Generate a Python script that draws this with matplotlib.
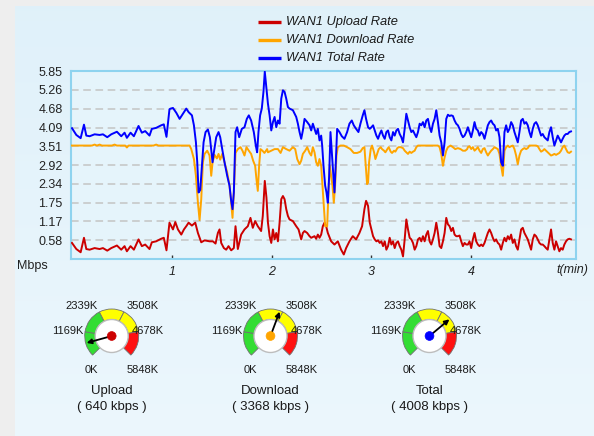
import numpy as np
import matplotlib

matplotlib.use("Agg")
import matplotlib.pyplot as plt
from matplotlib.patches import Wedge, Circle

plt.rcParams["font.family"] = ["Liberation Sans", "DejaVu Sans"]

# ---- traffic samples: time in seconds, rate in Mbps ----
upload_t = [0, 2.6, 5.2, 7.2, 8.6, 10.6, 13.6, 16.6, 18.6, 21.2, 23.6, 27.0, 29.6, 31.6, 33.0,
            35.2, 37.2, 40.0, 42.0, 44.0, 46.6, 48.0, 50.6, 53.6, 55.2, 56.8, 58.6,
            60.7, 62.1, 63.7, 65.7, 67.3, 68.7, 70.1, 72.1, 74.1, 75.7, 77.7, 79.7, 82.7, 84.7,
            86.3, 87.7, 88.7, 89.7, 91.3, 92.7, 94.1, 95.7, 97.3, 98.3, 99.7, 101.7, 103.7, 105.7,
            107.3, 108.7, 110.1, 111.7, 113.7, 114.7, 115.9, 116.9,
            117.8, 118.8, 119.8, 120.8, 121.8, 122.8, 123.8, 124.8, 125.8, 126.8, 127.8, 128.8,
            129.8, 130.8, 132.8, 134.8, 136.2, 137.8, 138.8, 139.8, 141.4, 142.8, 143.8, 145.8,
            146.8, 147.8, 148.8, 149.8, 150.8, 151.8, 152.8, 153.8, 155.8, 157.8, 159.8, 161.8,
            163.4, 164.8, 166.8, 168.8, 170.8, 172.8, 174.4, 175.8, 176.8] + list(range(178, 301))
upload_v = [0.50, 0.31, 0.21, 0.66, 0.31, 0.29, 0.34, 0.31, 0.34, 0.26, 0.34, 0.42, 0.29, 0.40, 0.24,
            0.40, 0.29, 0.61, 0.40, 0.45, 0.31, 0.52, 0.55, 0.63, 0.66, 0.27, 1.13,
            0.92, 1.15, 0.92, 0.76, 0.92, 1.02, 1.13, 1.04, 1.13, 0.81, 0.52, 0.58, 0.55, 0.55,
            0.48, 0.81, 0.92, 0.50, 0.34, 0.29, 0.40, 0.27, 0.34, 1.02, 0.31, 0.76, 0.92, 1.02,
            1.28, 0.97, 1.18, 1.02, 0.87, 1.34, 2.43, 1.91,
            1.13, 0.71, 0.50, 0.92, 0.61, 0.81, 0.55, 1.13, 1.86, 1.96, 1.86, 1.55,
            1.34, 1.23, 1.18, 1.02, 0.92, 0.61, 0.81, 0.87, 0.81, 0.71, 0.66, 0.71,
            0.63, 0.76, 0.66, 0.76, 1.02, 1.13, 1.02, 0.81, 0.55, 0.45, 0.55, 0.29,
            0.14, 0.34, 0.55, 0.71, 0.61, 0.81, 1.02, 1.55, 1.81,
            1.65, 1.13, 0.92, 0.71, 0.61, 0.55, 0.58, 0.50, 0.55, 0.40,
            0.55, 0.29, 0.40, 0.66, 0.45, 0.55, 0.34, 0.50, 0.55, 0.40,
            0.29, 0.08, 0.61, 1.23, 0.92, 0.66, 0.61, 0.50, 0.29, 0.40,
            0.61, 0.66, 0.55, 0.71, 0.55, 0.76, 0.87, 0.55, 0.45, 0.61,
            0.81, 1.13, 0.81, 0.40, 0.34, 0.55, 0.81, 1.28, 1.08, 1.02,
            0.87, 0.97, 0.76, 0.71, 0.71, 0.73, 0.55, 0.40, 0.50, 0.45,
            0.45, 0.55, 0.34, 0.61, 0.81, 0.55, 0.45, 0.40, 0.45, 0.40,
            0.50, 0.66, 0.81, 0.92, 0.81, 0.66, 0.55, 0.61, 0.50, 0.45,
            0.29, 0.50, 0.66, 0.55, 0.71, 0.61, 0.76, 0.50, 0.61, 0.40,
            0.29, 0.61, 0.92, 0.97, 0.81, 0.71, 0.61, 0.45, 0.29, 0.61,
            0.76, 0.71, 0.61, 0.50, 0.45, 0.45, 0.40, 0.34, 0.29, 0.61,
            0.92, 0.50, 0.29, 0.55, 0.40, 0.24, 0.34, 0.29, 0.45, 0.55,
            0.61, 0.63, 0.61]

download_t = [0, 12, 13.6, 15, 16.6, 18, 24, 25.6, 27, 32, 33, 34, 49, 50.6, 52, 58.6,
              70.7, 71.7, 73.3, 74.5, 75.7, 76.7, 77.7, 78.7, 79.7, 81.3, 82.7, 83.7, 84.5, 85.7,
              87.1, 88.1, 89.1, 90.3, 91.7, 93.3, 94.7, 95.7, 96.5, 97.3, 98.3, 99.7, 101.3, 102.5,
              103.7, 104.9, 106.3, 107.7, 108.9, 110.1, 110.9, 111.7, 112.5, 113.3, 114.5, 115.7, 117.3,
              117.8, 119.8, 121.8, 123.8, 125.4, 126.8, 128.8, 130.8, 132.8, 134.2, 135.4, 136.8,
              137.8, 138.8, 140.2, 141.4, 142.8, 143.8, 144.8, 145.8, 146.8, 147.8, 148.8, 149.8,
              150.6, 151.4, 152.2, 153.4, 154.2, 155.0, 155.8, 156.6, 157.4, 158.2, 159.0, 159.8,
              161.4, 163.4, 165.4, 167.4, 169.4, 171.4, 173.4, 174.8, 175.8, 176.6, 177.4,
              178.0, 178.6, 179.6, 180.4, 181.6, 182.4, 183.6, 184.4, 185.6, 186.4, 187.6, 188.4,
              189.6, 190.4, 191.6, 192.4, 193.6, 194.4, 195.6, 196.4, 197.6, 199.0, 200.0, 201.0,
              202.0, 203.0, 204.0, 205.0, 206.0, 207.0, 208.0, 220.0, 221.0, 222.0, 223.0, 224.0,
              225.0, 226.0, 227.6, 229.0, 230.4, 232.0, 233.6, 235.0, 236.4, 237.6] + list(range(238, 301))
download_v = [3.53, 3.53, 3.56, 3.53, 3.56, 3.53, 3.53, 3.56, 3.53, 3.53, 3.47, 3.53, 3.53, 3.56, 3.53, 3.53,
              3.53, 3.42, 3.11, 2.59, 1.75, 1.21, 1.86, 3.01, 3.27, 3.37, 3.22, 2.59, 3.01, 3.24,
              3.13, 3.27, 3.09, 3.27, 3.01, 2.69, 2.28, 1.75, 1.28, 2.07, 3.30, 3.42, 3.48, 3.37,
              3.22, 3.48, 3.37, 3.27, 3.06, 2.90, 2.48, 2.12, 2.90, 3.42, 3.37, 3.30, 3.42,
              3.32, 3.37, 3.42, 3.42, 3.30, 3.48, 3.42, 3.37, 3.48, 3.42, 3.11, 2.95,
              3.06, 3.27, 3.37, 3.48, 3.30, 3.22, 3.48, 3.32, 3.01, 2.90, 3.11, 2.90,
              2.28, 1.65, 1.02, 1.02, 2.07, 2.90, 2.59, 2.28, 1.75, 2.28, 3.22, 3.48,
              3.53, 3.53, 3.48, 3.42, 3.30, 3.30, 3.34, 3.45, 3.48, 2.90, 2.33,
              2.38, 3.01, 3.42, 3.53, 3.32, 3.11, 3.30, 3.42, 3.48, 3.42, 3.37, 3.32,
              3.42, 3.48, 3.34, 3.30, 3.37, 3.34, 3.45, 3.48, 3.48, 3.45, 3.37, 3.32,
              3.27, 3.34, 3.30, 3.34, 3.37, 3.48, 3.53, 3.53, 3.48, 3.27, 2.90, 3.16,
              3.37, 3.48, 3.53, 3.48, 3.42, 3.45, 3.42, 3.37, 3.37, 3.42,
              3.48, 3.51, 3.42, 3.48, 3.37, 3.42, 3.48, 3.37, 3.30, 3.42,
              3.45, 3.32, 3.22, 3.30, 3.37, 3.42, 3.48, 3.45, 3.42, 3.27,
              2.90, 2.59,
              3.37, 3.48, 3.53, 3.48, 3.51, 3.53, 3.42, 3.22, 2.95, 3.22,
              3.37, 3.42, 3.45, 3.42, 3.45, 3.53, 3.53, 3.53, 3.53, 3.53,
              3.51, 3.42, 3.34, 3.37, 3.42, 3.37, 3.32, 3.27, 3.22, 3.24,
              3.27, 3.24, 3.27, 3.30, 3.37, 3.48, 3.53, 3.42, 3.32, 3.30, 3.34]

total_t = [0, 2.6, 5.2, 7.2, 8.6, 10.6, 13.6, 16.6, 18.6, 21.2, 23.6, 27.0, 29.6, 31.6, 33.0,
           35.2, 37.2, 40.0, 42.0, 44.0, 46.6, 48.0, 50.6, 53.6, 55.2, 56.8, 58.6,
           59.3, 60.7, 62.7, 64.7, 66.7, 68.7, 70.1, 72.1, 73.3, 74.5, 75.3, 76.1, 77.1, 78.1,
           79.1, 80.3, 81.7, 82.9, 83.9, 84.5, 85.3, 86.7, 88.1, 89.1, 90.3, 91.7, 93.3, 94.7,
           95.7, 96.5, 97.3, 98.3, 99.3, 100.5, 102.1, 103.7, 105.1, 106.3, 107.7, 109.3, 110.5,
           111.3, 112.1, 113.1, 114.1, 115.1, 115.9, 116.7,
           117.8, 118.8, 119.8, 120.8, 121.8, 122.8, 123.8, 124.8, 125.8, 126.8, 127.8, 128.8,
           129.8, 130.8, 132.8, 134.8, 135.8, 136.8, 137.8, 138.8, 139.8, 141.4, 142.8, 143.8,
           144.8, 145.8, 146.8, 147.8, 148.8, 149.8, 150.4, 151.2, 152.2, 153.0, 153.8, 154.6,
           155.4, 156.2, 157.0, 157.8, 158.6, 159.4, 160.8, 162.2, 163.8, 165.4, 166.8, 168.2,
           169.4, 170.8, 172.2, 173.4, 174.8, 175.8, 176.8] + list(range(178, 301))
total_v = [4.07, 3.86, 3.76, 4.18, 3.84, 3.82, 3.88, 3.86, 3.88, 3.79, 3.88, 3.96, 3.82, 3.93, 3.77,
           3.93, 3.82, 4.14, 3.93, 3.98, 3.84, 4.05, 4.08, 4.16, 4.19, 3.80, 4.66,
           4.68, 4.70, 4.55, 4.36, 4.52, 4.68, 4.57, 4.47, 4.16, 3.63, 3.01, 2.07, 2.15, 2.90,
           3.63, 3.95, 4.03, 3.79, 3.32, 3.01, 3.32, 3.79, 3.95, 3.79, 3.42, 3.01, 2.59, 2.28,
           1.81, 1.55, 2.07, 3.95, 4.10, 3.79, 4.05, 4.10, 4.36, 4.47, 4.31, 3.95, 3.53,
           3.32, 3.95, 4.47, 4.68, 5.20, 5.83, 5.41,
           4.83, 4.47, 4.00, 4.26, 4.42, 4.10, 4.31, 4.21, 4.99, 5.25, 5.20, 4.99,
           4.73, 4.68, 4.63, 4.42, 4.21, 3.95, 3.74, 4.00, 4.36, 4.26, 4.16, 4.00,
           4.21, 4.05, 3.89, 4.05, 3.69, 3.84, 3.53, 2.90, 2.28, 2.07, 1.75, 2.59,
           3.95, 3.32, 2.69, 2.07, 3.01, 4.05, 3.95, 3.82, 3.74, 3.95, 4.21, 4.31,
           4.16, 4.05, 3.95, 4.21, 4.47, 4.63, 4.36,
           4.10, 4.05, 4.10, 4.16, 4.00, 3.84, 3.74, 3.89, 4.00, 3.84,
           3.74, 3.95, 4.00, 3.79, 3.69, 3.95, 3.84, 4.00, 4.05, 3.89,
           3.79, 3.63, 4.05, 4.52, 4.31, 4.10, 3.95, 4.00, 3.89, 3.79,
           3.95, 4.21, 4.16, 4.26, 4.10, 4.31, 4.36, 4.10, 3.95, 4.21,
           4.36, 4.63, 4.26, 3.84, 3.63, 3.22, 3.63, 4.36, 4.49, 4.45,
           4.47, 4.45, 4.31, 4.21, 4.16, 4.05, 3.89, 3.79, 3.84, 3.95,
           4.10, 3.95, 3.79, 4.00, 4.26, 4.05, 4.00, 3.84, 3.95, 3.89,
           3.74, 3.95, 4.16, 4.26, 4.31, 4.21, 4.16, 4.00, 4.05, 3.79,
           3.01, 2.90,
           3.95, 4.16, 3.95, 4.05, 4.26, 4.16, 3.95, 3.79, 3.63, 3.95,
           4.31, 4.36, 4.21, 4.26, 4.16, 3.95, 3.79, 4.05, 4.21, 4.26,
           4.16, 4.00, 3.84, 3.89, 3.79, 3.74, 3.69, 3.95, 4.10, 3.79,
           3.53, 3.69, 3.84, 3.74, 3.63, 3.74, 3.84, 3.89, 3.89, 3.95, 3.97]

series_labels = ["WAN1 Upload Rate", "WAN1 Download Rate", "WAN1 Total Rate"]
series_colors = ["#cc0000", "#ffa500", "#0000ff"]
y_tick_labels = ["0.58", "1.17", "1.75", "2.34", "2.92", "3.51", "4.09", "4.68", "5.26", "5.85"]
x_ticks = [1, 2, 3, 4]

# ---- gauges ----
gauge_names = ["Upload", "Download", "Total"]
gauge_kbps = [640, 3368, 4008]
gauge_max = 5848
gauge_scale = ["0K", "1169K", "2339K", "3508K", "4678K", "5848K"]
band_colors = ["#33dd33", "#33dd33", "#ffff00", "#ffff00", "#ff1111"]

W, H = 594, 436
fig = plt.figure(figsize=(W / 100, H / 100), dpi=100, facecolor="#eeeeee")

# background panel in pixel coordinates (y up)
bg = fig.add_axes([0, 0, 1, 1])
grad = np.linspace(0, 1, 200)[:, None, None]
top = np.array([0.878, 0.945, 0.980])
bot = np.array([0.925, 0.968, 0.992])
bg.imshow(top + (bot - top) * grad * np.ones((1, 2, 3)), extent=[15, W, 0, H - 7],
          aspect="auto", origin="upper", zorder=0)
bg.set_xlim(0, W)
bg.set_ylim(0, H)
bg.axis("off")

# legend drawn at the top of the panel
for i, (lab, col) in enumerate(zip(series_labels, series_colors)):
    y = H - (22.5 + 17.8 * i)
    bg.plot([258, 281], [y, y], color=col, lw=2.4, solid_capstyle="butt")
    bg.text(286, y, lab, fontsize=9.3, style="italic", color="#1a1a1a", va="center", ha="left")

# main chart
ax = fig.add_axes([71 / W, (H - 259) / H, (575.5 - 71) / W, (259 - 71) / H])
ax.set_facecolor("#e5f4fb")
yt = [float(s) for s in y_tick_labels]
for v in yt[:-1]:
    ax.axhline(v, color="#c4c4c4", lw=1.1, ls=(0, (5, 3)), zorder=1)
for t, v, col in zip([upload_t, download_t, total_t], [upload_v, download_v, total_v], series_colors):
    ax.plot(np.array(t) / 60.0, v, color=col, lw=1.4, zorder=3)
ax.set_xlim(-0.01, 5.045)
ax.set_ylim(0, 5.85)
ax.set_yticks(yt, y_tick_labels)
ax.set_xticks(x_ticks, [str(x) for x in x_ticks])
ax.tick_params(axis="y", length=0, pad=6, labelsize=9, labelcolor="#222222")
ax.tick_params(axis="x", direction="in", length=3, width=1, color="#333333", pad=5,
               labelsize=9, labelcolor="#222222")
for lab in ax.get_xticklabels():
    lab.set_style("italic")
for sp in ax.spines.values():
    sp.set_color("#8ed3ef")
    sp.set_linewidth(1.5)

fig.text(32 / W, 1 - 266 / H, "Mbps", fontsize=9, color="#222222", ha="center", va="center")
fig.text(572 / W, 1 - 270 / H, "t(min)", fontsize=9, style="italic", color="#222222",
         ha="center", va="center")

# gauges
centers_x = [111.7, 270.5, 429.5]
cy = H - 336
r_out, band = 27, 10.5
span_start, span = 225.0, 270.0
label_pos = [(-20.5, -34, "center"), (-28.4, 5, "right"), (-30.4, 30.3, "center"),
             (31.3, 30.3, "center"), (20, 4.5, "left"), (31.3, -34, "center")]
for cx, name, kbps, col in zip(centers_x, gauge_names, gauge_kbps, series_colors):
    n = len(band_colors)
    for k, bc in enumerate(band_colors):
        th2 = span_start - span * k / n
        th1 = span_start - span * (k + 1) / n
        bg.add_patch(Wedge((cx, cy), r_out, th1, th2, width=band, facecolor=bc,
                           edgecolor="#707070", lw=0.6, zorder=2))
    bg.add_patch(Circle((cx, cy), r_out - band, facecolor="white", edgecolor="#bdbdbd",
                        lw=1.0, zorder=3))
    for (dx, dy, ha), s in zip(label_pos, gauge_scale):
        bg.text(cx + dx, cy + dy, s, fontsize=8, color="#1a1a1a", ha=ha, va="center", zorder=5)
    ang = np.deg2rad(span_start - span * kbps / gauge_max)
    tip = (cx + (r_out - 1) * np.cos(ang), cy + (r_out - 1) * np.sin(ang))
    bg.annotate("", xy=tip, xytext=(cx, cy),
                arrowprops=dict(arrowstyle="-|>", color="black", lw=1.3,
                                mutation_scale=7, shrinkA=0, shrinkB=0), zorder=4)
    bg.add_patch(Circle((cx, cy), 4.4, facecolor=col, edgecolor=col, lw=0.5, zorder=6))
    bg.text(cx, cy - 54.7, name, fontsize=9.5, color="#1a1a1a", ha="center", va="center")
    bg.text(cx, cy - 71.3, f"( {kbps} kbps )", fontsize=9.5, color="#1a1a1a",
            ha="center", va="center")

fig.savefig("out.png", dpi=100, facecolor=fig.get_facecolor())
